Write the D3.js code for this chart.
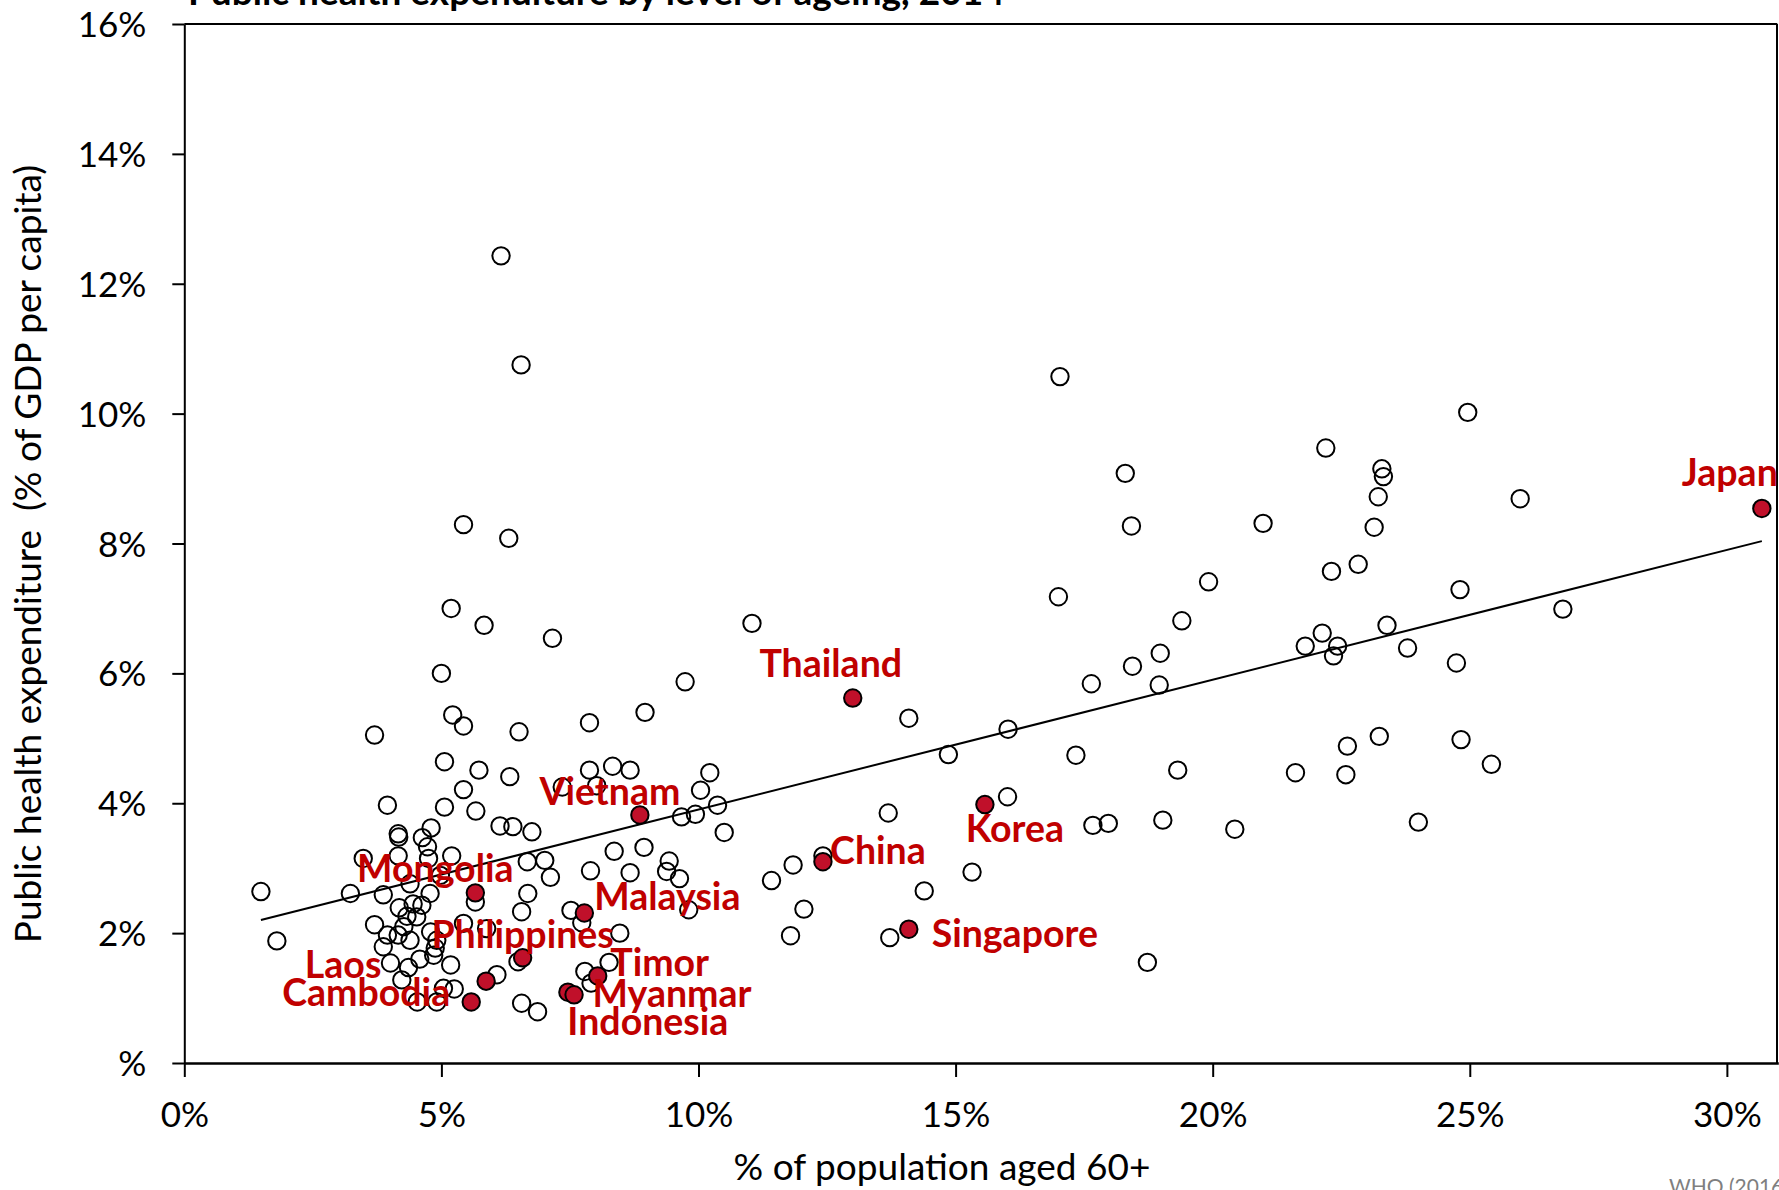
<!DOCTYPE html>
<html>
<head>
<meta charset="utf-8">
<script src="https://cdn.jsdelivr.net/npm/d3@7"></script>
<style>
  html, body { margin: 0; padding: 0; background: #fff; overflow: hidden; }
  svg { display: block; }
  text { font-family: Lato, "Open Sans", sans-serif; }
</style>
</head>
<body>
<svg id="chart" width="1779" height="1190"></svg>
<script>
// Countries without a name tag: share of population aged 60+ (%) and
// public health expenditure (% of GDP per capita), 2014
const otherAged = [
  6.16, 6.55, 5.43, 6.31, 5.19, 5.83, 7.16, 11.04, 5.00, 9.74,
  5.22, 5.43, 3.70, 6.51, 7.88, 8.96, 5.06, 5.73, 6.33, 7.88,
  8.33, 8.67, 10.22, 5.43, 7.35, 8.02, 10.04, 3.95, 5.06, 5.67,
  9.67, 9.94, 10.37, 6.14, 6.39, 6.76, 10.50, 4.80, 4.16, 4.17,
  4.63, 4.73, 4.16, 3.48, 5.20, 4.75, 8.36, 8.94, 9.43, 6.67,
  7.01, 7.90, 8.67, 9.38, 9.63, 7.12, 11.42, 1.49, 3.23, 3.87,
  4.39, 4.98, 4.78, 5.66, 6.68, 4.18, 4.45, 4.62, 6.56, 7.52,
  7.73, 9.81, 3.70, 4.33, 4.52, 4.27, 3.95, 4.16, 4.39, 4.79,
  4.91, 5.43, 5.88, 8.47, 3.87, 4.88, 4.85, 4.01, 4.58, 4.36,
  5.18, 6.49, 4.23, 6.08, 5.04, 5.25, 7.79, 8.26, 7.91, 4.53,
  4.91, 6.56, 6.87, 1.80,
  14.09, 17.00, 17.03, 19.40, 18.98, 18.44, 17.64, 18.96, 16.02, 14.86,
  17.34, 19.32, 13.69, 16.01, 17.67, 17.97, 19.03, 12.42, 11.84, 15.32,
  14.39, 12.05, 11.79, 13.72, 18.73, 22.20, 18.30, 23.29, 23.32, 23.22,
  23.14, 18.42, 20.98, 22.83, 22.31, 19.92, 22.13, 21.80, 22.43, 22.35,
  23.39, 21.61, 22.62, 23.24, 22.59, 20.43, 24.96, 25.98, 24.81, 26.81,
  23.79, 24.74, 24.83, 25.42, 24.00
];
const otherSpend = [
  12.43, 10.75, 8.29, 8.08, 7.00, 6.74, 6.54, 6.77, 6.00, 5.87,
  5.36, 5.19, 5.05, 5.10, 5.24, 5.40, 4.64, 4.51, 4.41, 4.51,
  4.57, 4.51, 4.47, 4.21, 4.25, 4.27, 4.20, 3.97, 3.94, 3.88,
  3.79, 3.83, 3.97, 3.65, 3.64, 3.56, 3.55, 3.62, 3.53, 3.48,
  3.47, 3.33, 3.19, 3.15, 3.19, 3.15, 3.26, 3.32, 3.11, 3.10,
  3.12, 2.96, 2.93, 2.95, 2.84, 2.86, 2.81, 2.64, 2.61, 2.59,
  2.76, 2.89, 2.61, 2.48, 2.61, 2.39, 2.45, 2.43, 2.33, 2.35,
  2.16, 2.36, 2.13, 2.26, 2.25, 2.10, 1.97, 1.97, 1.89, 2.02,
  1.89, 2.15, 2.07, 2.00, 1.79, 1.77, 1.66, 1.54, 1.60, 1.47,
  1.51, 1.56, 1.28, 1.36, 1.15, 1.14, 1.41, 1.55, 1.23, 0.94,
  0.94, 0.92, 0.79, 1.88,
  5.31, 7.18, 10.57, 6.81, 6.31, 6.11, 5.84, 5.82, 5.14, 4.75,
  4.74, 4.51, 3.85, 4.10, 3.66, 3.69, 3.74, 3.19, 3.05, 2.94,
  2.65, 2.37, 1.96, 1.93, 1.55, 9.47, 9.08, 9.15, 9.03, 8.72,
  8.25, 8.27, 8.31, 7.68, 7.57, 7.41, 6.62, 6.42, 6.42, 6.27,
  6.74, 4.47, 4.88, 5.03, 4.44, 3.60, 10.02, 8.69, 7.29, 6.99,
  6.39, 6.16, 4.98, 4.60, 3.71
];

// Highlighted countries of the region
const namedCountries = ["Japan", "Thailand", "Vietnam", "Korea", "China", "Singapore", "Mongolia",
  "Malaysia", "Philippines", "Laos", "Cambodia", "Timor", "Indonesia", "Myanmar"];
const namedAged  = [30.68, 13.00, 8.86, 15.57, 12.42, 14.09, 5.66, 7.78, 6.58, 5.87, 5.58, 8.04, 7.46, 7.58];
const namedSpend = [8.54, 5.62, 3.82, 3.98, 3.10, 2.06, 2.62, 2.31, 1.62, 1.26, 0.94, 1.34, 1.09, 1.05];

// Linear fit of spending on ageing: [intercept, slope]
const trendCoef = [1.904, 0.1999];

const xTicks = [0, 5, 10, 15, 20, 25, 30];
const xTickLabels = ["0%", "5%", "10%", "15%", "20%", "25%", "30%"];
const yTicks = [0, 2, 4, 6, 8, 10, 12, 14, 16];
const yTickLabels = ["%", "2%", "4%", "6%", "8%", "10%", "12%", "14%", "16%"];

// ---- layout ----
const plot = { left: 184.3, right: 1778.3, top: 24, bottom: 1063 };
const RED_TEXT = "#c00000";
const RED_FILL = "#c0102a";

// Where each country name sits relative to its marker (centre of text, baseline)
const labelOffset = {
  Japan: [-32, -22], Thailand: [-22, -21], Vietnam: [-30, -10], Korea: [30, 37],
  China: [55, 2], Singapore: [106, 18], Mongolia: [-40, -11], Malaysia: [83, -3],
  Philippines: [0, -10], Laos: [-143, -3], Cambodia: [-105, 4], Timor: [62, 0],
  Indonesia: [80, 43], Myanmar: [98, 12]
};

const svg = d3.select("#chart");

const x = d3.scaleLinear().domain([0, 31]).range([plot.left, plot.right]);
const y = d3.scaleLinear().domain([0, 16]).range([plot.bottom, plot.top]);

// frame: top and right edges of the plot area
svg.append("line")
  .attr("x1", plot.left).attr("x2", plot.right - 1)
  .attr("y1", plot.top).attr("y2", plot.top)
  .attr("stroke", "#000").attr("stroke-width", 2);
svg.append("line")
  .attr("x1", plot.right - 1.3).attr("x2", plot.right - 1.3)
  .attr("y1", plot.top).attr("y2", plot.bottom)
  .attr("stroke", "#000").attr("stroke-width", 2);

// x axis
const gx = svg.append("g")
  .attr("transform", `translate(0,${plot.bottom})`)
  .call(d3.axisBottom(x).tickValues(xTicks).tickSize(14).tickSizeOuter(0)
    .tickFormat((d, i) => xTickLabels[i]));
gx.select(".domain").attr("stroke", "#000").attr("stroke-width", 2.6);
gx.selectAll(".tick line").attr("stroke", "#000").attr("stroke-width", 2);
gx.selectAll(".tick text")
  .attr("y", 64).attr("dy", null)
  .attr("fill", "#000")
  .style("font-family", "Lato, sans-serif")
  .style("font-size", "35px");

// y axis
const gy = svg.append("g")
  .attr("transform", `translate(${plot.left},0)`)
  .call(d3.axisLeft(y).tickValues(yTicks).tickSize(12).tickSizeOuter(0)
    .tickFormat((d, i) => yTickLabels[i]));
gy.select(".domain").attr("stroke", "#000").attr("stroke-width", 2);
gy.selectAll(".tick line").attr("stroke", "#000").attr("stroke-width", 2);
gy.selectAll(".tick text")
  .attr("x", -38).attr("dy", "0.36em")
  .attr("fill", "#000")
  .style("font-family", "Lato, sans-serif")
  .style("font-size", "35px");

// axis titles
svg.append("text")
  .attr("x", 942).attr("y", 1180)
  .attr("text-anchor", "middle")
  .style("font-size", "37px")
  .text("% of population aged 60+");

svg.append("text")
  .attr("transform", "translate(41,554) rotate(-90)")
  .attr("text-anchor", "middle")
  .attr("xml:space", "preserve")
  .style("white-space", "pre")
  .style("font-size", "37px")
  .text("Public health expenditure  (% of GDP per capita)");

// chart title (sits at the very top edge)
svg.append("text")
  .attr("x", 188).attr("y", 5)
  .style("font-size", "37px")
  .style("font-weight", "700")
  .text("Public health expenditure by level of ageing, 2014");

// source note
svg.append("text")
  .attr("x", 1669).attr("y", 1194)
  .attr("fill", "#7f7f7f")
  .style("font-size", "21px")
  .text("WHO (2016)");

// all countries as open circles
const others = otherAged.map((v, i) => ({ aged: v, spend: otherSpend[i] }));
svg.append("g")
  .selectAll("circle")
  .data(others)
  .join("circle")
  .attr("cx", d => x(d.aged))
  .attr("cy", d => y(d.spend))
  .attr("r", 8.7)
  .attr("fill", "none")
  .attr("stroke", "#000")
  .attr("stroke-width", 2);

// trend line across the observed range of ageing
const named = namedCountries.map((n, i) => ({ name: n, aged: namedAged[i], spend: namedSpend[i] }));
const allAged = otherAged.concat(namedAged);
const xExt = d3.extent(allAged);
svg.append("path")
  .datum(xExt.map(a => [a, trendCoef[0] + trendCoef[1] * a]))
  .attr("d", d3.line().x(d => x(d[0])).y(d => y(d[1])))
  .attr("fill", "none")
  .attr("stroke", "#000")
  .attr("stroke-width", 2);

// highlighted countries
svg.append("g")
  .selectAll("circle")
  .data(named)
  .join("circle")
  .attr("cx", d => x(d.aged))
  .attr("cy", d => y(d.spend))
  .attr("r", 8.7)
  .attr("fill", RED_FILL)
  .attr("stroke", "#000")
  .attr("stroke-width", 2);

svg.append("g")
  .selectAll("text")
  .data(named)
  .join("text")
  .attr("x", d => x(d.aged) + labelOffset[d.name][0])
  .attr("y", d => y(d.spend) + labelOffset[d.name][1])
  .attr("text-anchor", "middle")
  .attr("fill", RED_TEXT)
  .style("font-size", "37.5px")
  .style("font-weight", "700")
  .text(d => d.name);
</script>
</body>
</html>
